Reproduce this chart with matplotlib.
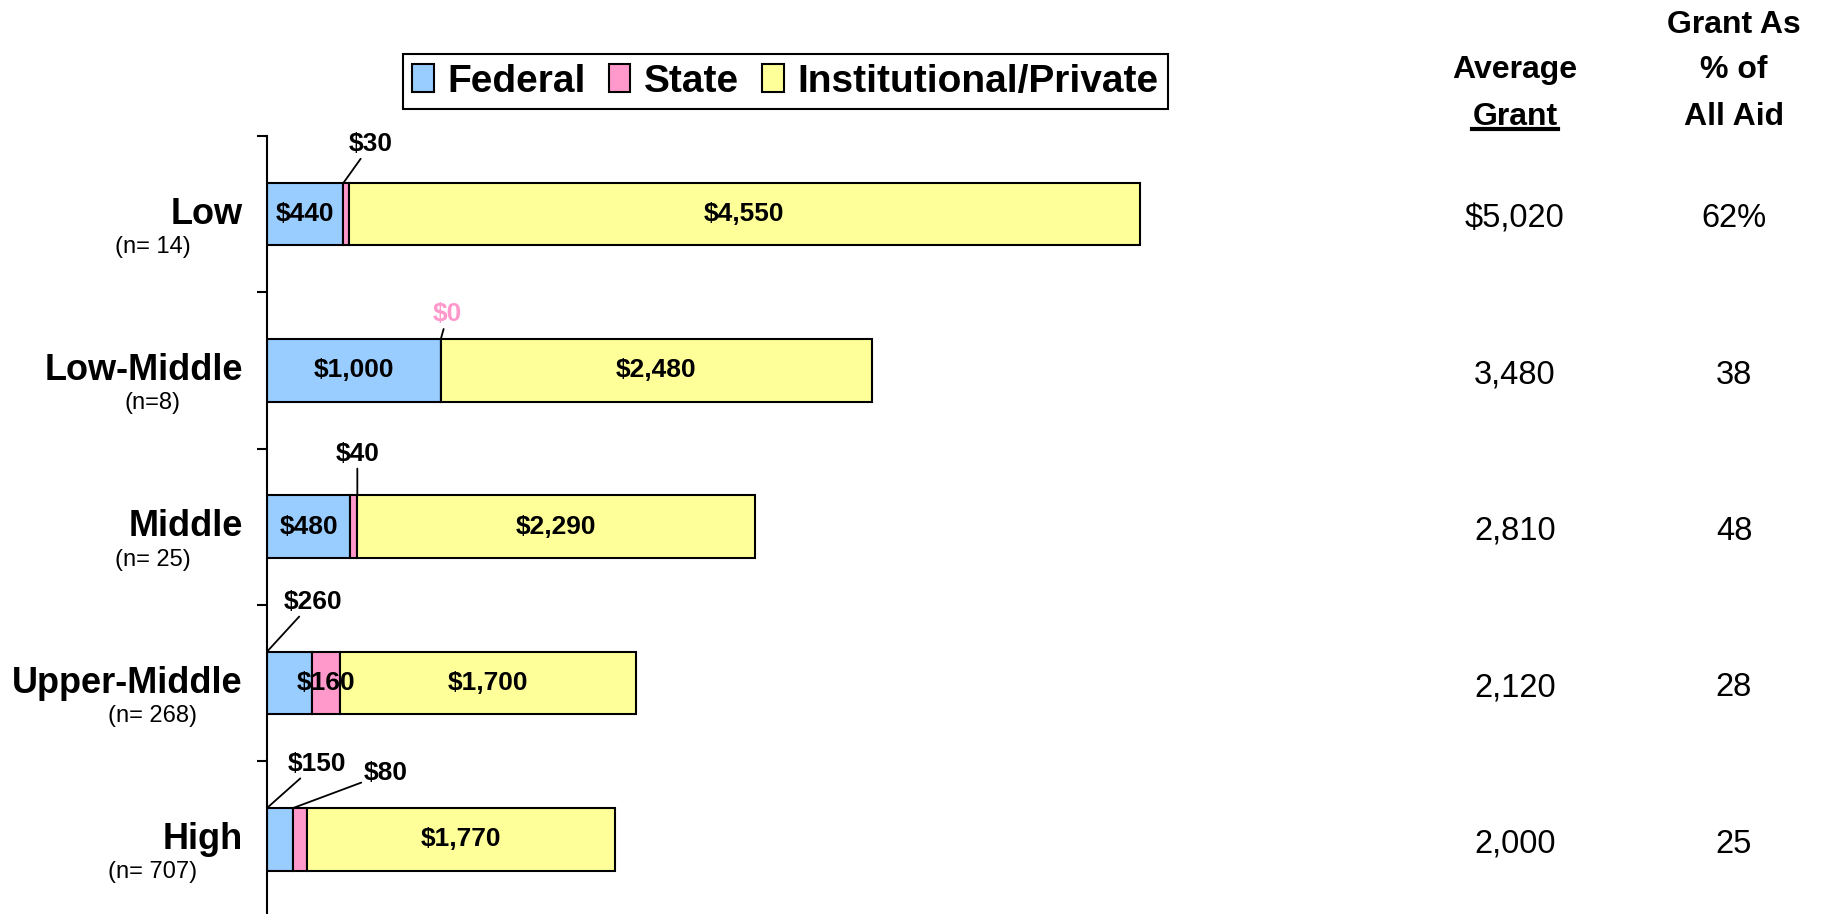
import numpy as np
import matplotlib
matplotlib.use('Agg')
import matplotlib.pyplot as plt
from matplotlib import transforms
from matplotlib.lines import Line2D
from matplotlib.patches import Patch

plt.rcParams['font.family'] = ['Liberation Sans', 'DejaVu Sans']

categories = ['Low', 'Low-Middle', 'Middle', 'Upper-Middle', 'High']
sample_sizes = ['(n= 14)', '(n=8)', '(n= 25)', '(n= 268)', '(n= 707)']
federal = [440, 1000, 480, 260, 150]
state = [30, 0, 40, 160, 80]
institutional = [4550, 2480, 2290, 1700, 1770]
average_grant = ['$5,020', '3,480', '2,810', '2,120', '2,000']
grant_pct = ['62%', '38', '48', '28', '25']

series_names = ['Federal', 'State', 'Institutional/Private']
series_colors = ['#99CCFF', '#FF99CC', '#FFFF99']

# labels drawn outside the bar with a leader line:
# (series, row) -> (anchor within segment, dx pt, dy pt)
callouts = {
    (0, 3): (0.0, 33, 36),
    (0, 4): (0.0, 36, 32),
    (1, 0): (0.0, 20, 28),
    (1, 1): (0.0, 5, 18),
    (1, 2): (1.0, 0, 30),
    (1, 4): (0.0, 67, 25),
}

fig = plt.figure(figsize=(18.22, 9.14), dpi=100)
ax = fig.add_axes([0.1465, -0.0038, 0.5153, 0.8550])

y = np.arange(len(categories))
left = np.zeros(len(categories))
for k, vals in enumerate([federal, state, institutional]):
    vals = np.array(vals, dtype=float)
    ax.barh(y, vals, left=left, height=0.4, color=series_colors[k],
            edgecolor='black', linewidth=1.5)
    for i, v in enumerate(vals):
        label = f'${int(v):,}'
        if (k, i) in callouts:
            anchor, dx, dy = callouts[(k, i)]
            ax.annotate(label, xy=(left[i] + anchor * v, y[i] - 0.2),
                        xytext=(dx, dy), textcoords='offset points',
                        ha='center', va='center', fontsize=19, fontweight='bold',
                        color='#FF99CC' if v == 0 else 'black',
                        arrowprops=dict(arrowstyle='-', color='black', lw=1.3,
                                        shrinkA=0, shrinkB=0))
        else:
            ax.text(left[i] + v / 2, y[i], label, ha='center', va='center',
                    fontsize=19, fontweight='bold')
    left += vals

ax.set_xlim(0, 5400)
ax.set_ylim(4.5, -0.5)
for s in ['top', 'right', 'bottom']:
    ax.spines[s].set_visible(False)
ax.spines['left'].set_linewidth(1.5)
ax.set_xticks([])
ax.set_yticks(np.arange(-0.5, 5, 1))
ax.set_yticklabels([])
ax.tick_params(axis='y', length=7, width=1.5, direction='out')

trans = transforms.blended_transform_factory(fig.transFigure, ax.transData)
for i in range(len(categories)):
    ax.text(243 / 1822, y[i], categories[i], transform=trans, ha='right', va='center',
            fontsize=26, fontweight='bold', clip_on=False)
    ax.text(153 / 1822, y[i] + 0.21, sample_sizes[i], transform=trans, ha='center',
            va='center', fontsize=17, clip_on=False)
    ax.text(0.8315, y[i] + 0.03, average_grant[i], transform=trans, ha='center',
            va='center', fontsize=23.5, clip_on=False)
    ax.text(0.9517, y[i] + 0.03, grant_pct[i], transform=trans, ha='center',
            va='center', fontsize=23.5, clip_on=False)

# column headers
hdr = dict(ha='center', va='center', fontsize=23, fontweight='bold')
fig.text(0.8315, 0.9235, 'Average', **hdr)
grant_txt = fig.text(0.8315, 0.8725, 'Grant', **hdr)
fig.text(0.9517, 0.9731, 'Grant As', **hdr)
fig.text(0.9517, 0.9235, '% of', **hdr)
fig.text(0.9517, 0.8725, 'All Aid', **hdr)

handles = [Patch(facecolor=c, edgecolor='black', linewidth=1.5) for c in series_colors]
leg = fig.legend(handles, series_names, loc='center', bbox_to_anchor=(0.4311, 0.9108),
                 ncol=3, frameon=True, fancybox=False, edgecolor='black',
                 prop=dict(weight='bold', size=28), handlelength=0.55, handleheight=0.7,
                 handletextpad=0.35, columnspacing=0.6, borderpad=0.25, borderaxespad=0)
leg.get_frame().set_linewidth(1.5)
leg.get_frame().set_alpha(1)

# underline under "Grant"
fig.canvas.draw()
bb = grant_txt.get_window_extent()
inv = fig.transFigure.inverted()
(x0, y0), (x1, _) = inv.transform([(bb.x0, bb.y0 + 3), (bb.x1, bb.y0 + 3)])
fig.add_artist(Line2D([x0, x1], [y0, y0], color='black', lw=3, transform=fig.transFigure))

fig.savefig('out.png', dpi=100)
